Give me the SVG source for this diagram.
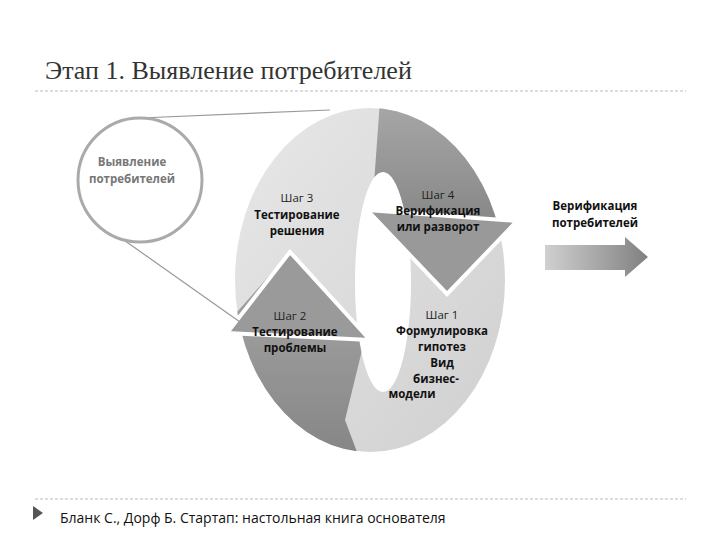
<svg xmlns="http://www.w3.org/2000/svg" width="720" height="540" viewBox="0 0 720 540">
<style>
.t{font-family:"Open Sans","Liberation Sans",sans-serif;font-weight:bold;font-size:11.5px;fill:#111;text-anchor:middle}
.s{font-family:"Open Sans","Liberation Sans",sans-serif;font-size:11.5px;fill:#222;text-anchor:middle}
.g{font-family:"Open Sans","Liberation Sans",sans-serif;font-weight:bold;font-size:11.5px;fill:#777;text-anchor:middle}
.d{stroke:#bbb;stroke-width:1;stroke-dasharray:3,2}
</style>
<defs>
<linearGradient id="lg" x1="0" y1="0" x2="1" y2="1"><stop offset="0" stop-color="#e8e8e8"/><stop offset="1" stop-color="#cfcfcf"/></linearGradient>
<linearGradient id="dg" x1="0" y1="0" x2="0" y2="1"><stop offset="0" stop-color="#a8a8a8"/><stop offset="1" stop-color="#858585"/></linearGradient>
<linearGradient id="ag" x1="0" y1="0" x2="1" y2="0"><stop offset="0" stop-color="#d0d0d0"/><stop offset="1" stop-color="#808080"/></linearGradient>
<clipPath id="ring"><path clip-rule="evenodd" d="M235,280 a135,172 0 1,0 270,0 a135,172 0 1,0 -270,0 Z M355,282 a28,110 0 1,0 56,0 a28,110 0 1,0 -56,0 Z"/></clipPath>
</defs>
<rect width="720" height="540" fill="#fff"/>
<text x="45" y="79" font-family="'Liberation Serif',serif" font-size="26" fill="#333">Этап 1. Выявление потребителей</text>
<line class="d" x1="35" y1="91" x2="686" y2="91"/>
<g id="ring-shape" clip-path="url(#ring)">
<rect x="230" y="100" width="280" height="360" fill="url(#lg)"/>
<polygon points="380,100 510,100 510,222 405,230 372,212" fill="url(#dg)"/>
<polygon points="230,320 290,252 365,338 345,420 360,460 230,460" fill="url(#dg)"/>
</g>
<g id="arrow4"><polygon points="367,210 517,221 447,294" fill="#999" stroke="#fff" stroke-width="4"/></g>
<g id="arrow2"><polygon points="290,252 227,333 370,340" fill="#9a9a9a" stroke="#fff" stroke-width="4"/></g>
<g id="step3"><text class="s" x="297" y="202">Шаг 3</text><text class="t" x="297" y="219">Тестирование</text><text class="t" x="297" y="235">решения</text></g>
<g id="step4"><text class="s" x="438" y="199">Шаг 4</text><text class="t" x="438" y="215">Верификация</text><text class="t" x="438" y="231">или разворот</text></g>
<g id="step2"><text class="s" x="290" y="320">Шаг 2</text><text class="t" x="295" y="336">Тестирование</text><text class="t" x="295" y="352">проблемы</text></g>
<g id="step1"><text class="s" x="442" y="319">Шаг 1</text><text class="t" x="442" y="335">Формулировка</text><text class="t" x="442" y="351">гипотез</text><text class="t" x="442" y="367">Вид</text><text class="t" x="436" y="383">бизнес-</text><text class="t" x="412" y="398">модели</text></g>
<g id="connectors" stroke="#999" stroke-width="1.2" fill="none">
<line x1="140" y1="118" x2="330" y2="110"/>
<line x1="104" y1="226" x2="240" y2="322"/>
</g>
<g id="magnifier"><circle cx="140" cy="180" r="62" fill="#fff" stroke="#aaa" stroke-width="3"/>
<text class="g" x="132" y="166">Выявление</text><text class="g" x="132" y="183">потребителей</text></g>
<g id="result"><text class="t" x="595" y="210" fill="#222">Верификация</text><text class="t" x="595" y="227">потребителей</text>
<polygon points="545,245 625,245 625,237 648,257 625,277 625,270 545,270" fill="url(#ag)"/></g>
<line class="d" x1="35" y1="499" x2="686" y2="499"/>
<polygon points="33,506 43,513 33,520" fill="#555"/>
<text x="60" y="523" font-family="'Open Sans','Liberation Sans',sans-serif" font-size="14" fill="#111">Бланк С., Дорф Б. Стартап: настольная книга основателя</text>
</svg>
